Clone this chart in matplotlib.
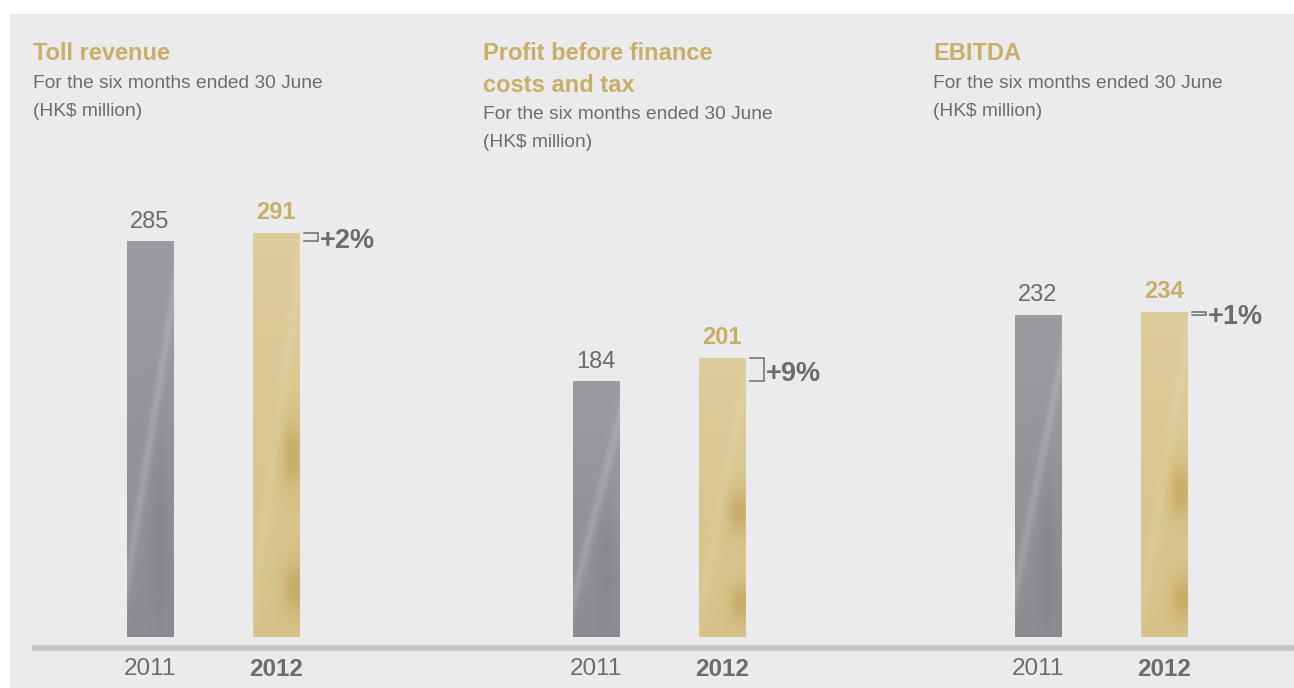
import numpy as np
import matplotlib.pyplot as plt
from matplotlib.colors import LinearSegmentedColormap
from matplotlib.lines import Line2D
from matplotlib.patches import Rectangle

plt.rcParams['font.family'] = ['Liberation Sans', 'DejaVu Sans']

# figures for the three panels, HK$ million
titles = ['Toll revenue', 'Profit before finance\ncosts and tax', 'EBITDA']
subtitle = 'For the six months ended 30 June\n(HK$ million)'
years = ['2011', '2012']
values_2011 = [285, 184, 232]
values_2012 = [291, 201, 234]
changes = ['+2%', '+9%', '+1%']

W, H = 1294, 688
GOLD = '#c9ae66'
GREY_TXT = '#6b6c70'
PANEL = '#ebebed'

def fx(px):
    return px / W

def fy(py):
    return 1 - py / H

fig = plt.figure(figsize=(W / 100, H / 100), dpi=100)
fig.patch.set_facecolor('white')
fig.patches.append(Rectangle((fx(10), 0), 1 - fx(10), fy(14), transform=fig.transFigure,
                             facecolor=PANEL, edgecolor='none', zorder=-5))

# bar area: baseline at y=637px, 1.39px per HK$ million
base_px = 637
scale = 1.39
ax = fig.add_axes([0, 1 - base_px / H, 1, (base_px - 14) / H])
ax.set_zorder(2)
ax.set_xlim(0, W)
ax.set_ylim(0, (base_px - 14) / scale)
ax.axis('off')

group_x = [213, 659, 1101]
title_x = [33, 483, 933]
offset = 63
bw = 47

grey_cmap = LinearSegmentedColormap.from_list('g', ['#7b7c80', '#96979b', '#b0b1b5'])
gold_cmap = LinearSegmentedColormap.from_list('y', ['#bfa257', '#d4bf83', '#dfd0a0'])

def textured_bar(x, h, cmap, kind):
    patch = ax.bar(x, h, width=bw, color=cmap(0.5), zorder=2)[0]
    u, v = np.meshgrid(np.linspace(0, 1, 60), np.linspace(0, 1, 200))
    if kind == 'grey':
        field = 0.3 + 0.3 * v
        field += 0.3 * np.exp(-((u - (v * 1.4 - 0.2)) ** 2) / 0.01)
        field -= 0.15 * np.exp(-((u - 0.7) ** 2 + (v - 0.3) ** 2) / 0.05)
    else:
        field = 0.6 + 0.3 * v
        field -= 0.55 * np.exp(-((u - 0.85) ** 2 / 0.08 + (v - 0.45) ** 2 / 0.01))
        field -= 0.45 * np.exp(-((u - 0.9) ** 2 / 0.08 + (v - 0.12) ** 2 / 0.006))
        field += 0.15 * np.exp(-((u - (v * 1.2 - 0.1)) ** 2) / 0.01)
    im = ax.imshow(np.clip(field, 0, 1), cmap=cmap, vmin=0, vmax=1, origin='lower',
                   extent=[x - bw / 2, x + bw / 2, 0, h], aspect='auto', zorder=3,
                   interpolation='bilinear')
    im.set_clip_path(patch)

for i in range(3):
    x1 = group_x[i] - offset
    x2 = group_x[i] + offset
    v1, v2 = values_2011[i], values_2012[i]
    textured_bar(x1, v1, grey_cmap, 'grey')
    textured_bar(x2, v2, gold_cmap, 'gold')

    ax.annotate(str(v1), (x1, v1), xytext=(0, 6), textcoords='offset points',
                ha='center', va='bottom', fontsize=17, color=GREY_TXT)
    ax.annotate(str(v2), (x2, v2), xytext=(0, 6), textcoords='offset points',
                ha='center', va='bottom', fontsize=17, color=GOLD, fontweight='bold')

    # bracket joining the two bar heights
    bx0 = x2 + bw / 2 + 4
    bx1 = bx0 + 14
    ax.plot([bx0, bx1, bx1, bx0], [v2, v2, v1, v1], color=GREY_TXT, lw=1.1,
            solid_joinstyle='miter', zorder=4)
    ax.annotate(changes[i], (bx1, (v1 + v2) / 2), xytext=(2, -3),
                textcoords='offset points', ha='left', va='center',
                fontsize=19.5, fontweight='bold', color=GREY_TXT)

    # year labels under the baseline
    fig.text(fx(x1), fy(669), years[0], ha='center', va='center',
             fontsize=17.5, color=GREY_TXT)
    fig.text(fx(x2), fy(669), years[1], ha='center', va='center',
             fontsize=17.5, color=GREY_TXT, fontweight='bold')

    # panel headings
    fig.text(fx(title_x[i]), fy(42), titles[i], ha='left', va='top', fontsize=17,
             fontweight='bold', color=GOLD, linespacing=1.5)
    sub_y = 75 if '\n' not in titles[i] else 106
    fig.text(fx(title_x[i]), fy(sub_y), subtitle, ha='left', va='top', fontsize=13.8,
             color=GREY_TXT, linespacing=1.85)

fig.lines.append(Line2D([fx(32), 1], [fy(648), fy(648)], transform=fig.transFigure,
                        color='#c3c4c8', lw=4, solid_capstyle='butt'))

fig.savefig('out.png', dpi=100, facecolor='white')
